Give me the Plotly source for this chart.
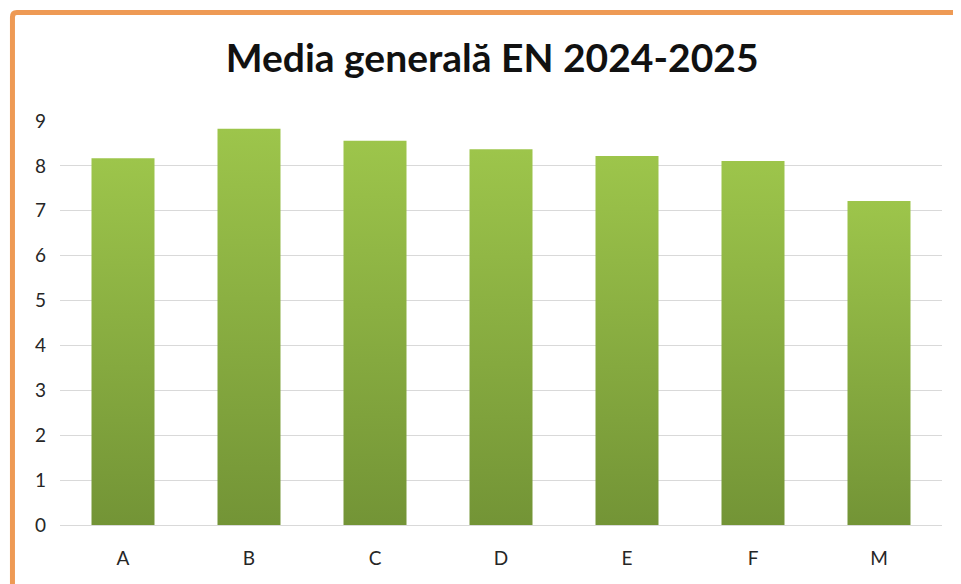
import plotly.graph_objects as go

categories = ["A", "B", "C", "D", "E", "F", "M"]
values = [8.17, 8.83, 8.56, 8.37, 8.22, 8.11, 7.22]
y_ticks = list(range(0, 10))

BAR_TOP = "#9DC54B"
BAR_BOTTOM = "#739436"
BORDER = "#EE9A55"

fig = go.Figure()

half = 0.25  # half bar width, in category units
for i, (cat, val) in enumerate(zip(categories, values)):
    fig.add_trace(
        go.Scatter(
            x=[i - half, i - half, i + half, i + half, i - half],
            y=[0, val, val, 0, 0],
            mode="lines",
            line={"width": 0},
            fill="toself",
            fillgradient={
                "type": "vertical",
                "colorscale": [[0, BAR_BOTTOM], [1, BAR_TOP]],
                "start": 0,
                "stop": val,
            },
            name=cat,
            hovertemplate=f"{cat}: {val}<extra></extra>",
        )
    )

# orange frame (only top and left edges visible)
fig.add_shape(
    type="path",
    xref="paper",
    yref="paper",
    path="M -0.0539,-0.3 L -0.0539,1.257 Q -0.0539,1.2686 -0.049,1.2686 L 1.2,1.2686",
    line={"color": BORDER, "width": 5},
    layer="above",
)

# the page body adds an 8px offset, so the figure is 8px smaller
fig.update_layout(
    width=953,
    height=576,
    margin={"l": 52, "r": 19, "t": 113, "b": 59},
    paper_bgcolor="white",
    plot_bgcolor="white",
    showlegend=False,
    title={
        "text": "<b>Media generală EN 2024-2025</b>",
        "x": 0.508,
        "xanchor": "center",
        "y": 0.913,
        "yanchor": "middle",
        "font": {"family": "Lato", "size": 39, "color": "#111111"},
    },
    font={"family": "Lato", "size": 19, "color": "#262626"},
)
fig.update_xaxes(
    range=[-0.5, len(categories) - 0.5],
    tickvals=list(range(len(categories))),
    ticktext=categories,
    showgrid=False,
    zeroline=False,
    showline=False,
    ticks="",
    ticklabelstandoff=20,
    fixedrange=True,
)
fig.update_yaxes(
    range=[0, 9],
    tickvals=y_ticks,
    showgrid=True,
    gridcolor="#D9D9D9",
    gridwidth=1,
    zeroline=True,
    zerolinecolor="#D9D9D9",
    zerolinewidth=1,
    showline=False,
    ticks="",
    ticklabelstandoff=13,
    fixedrange=True,
)

fig.write_html("out.html")
